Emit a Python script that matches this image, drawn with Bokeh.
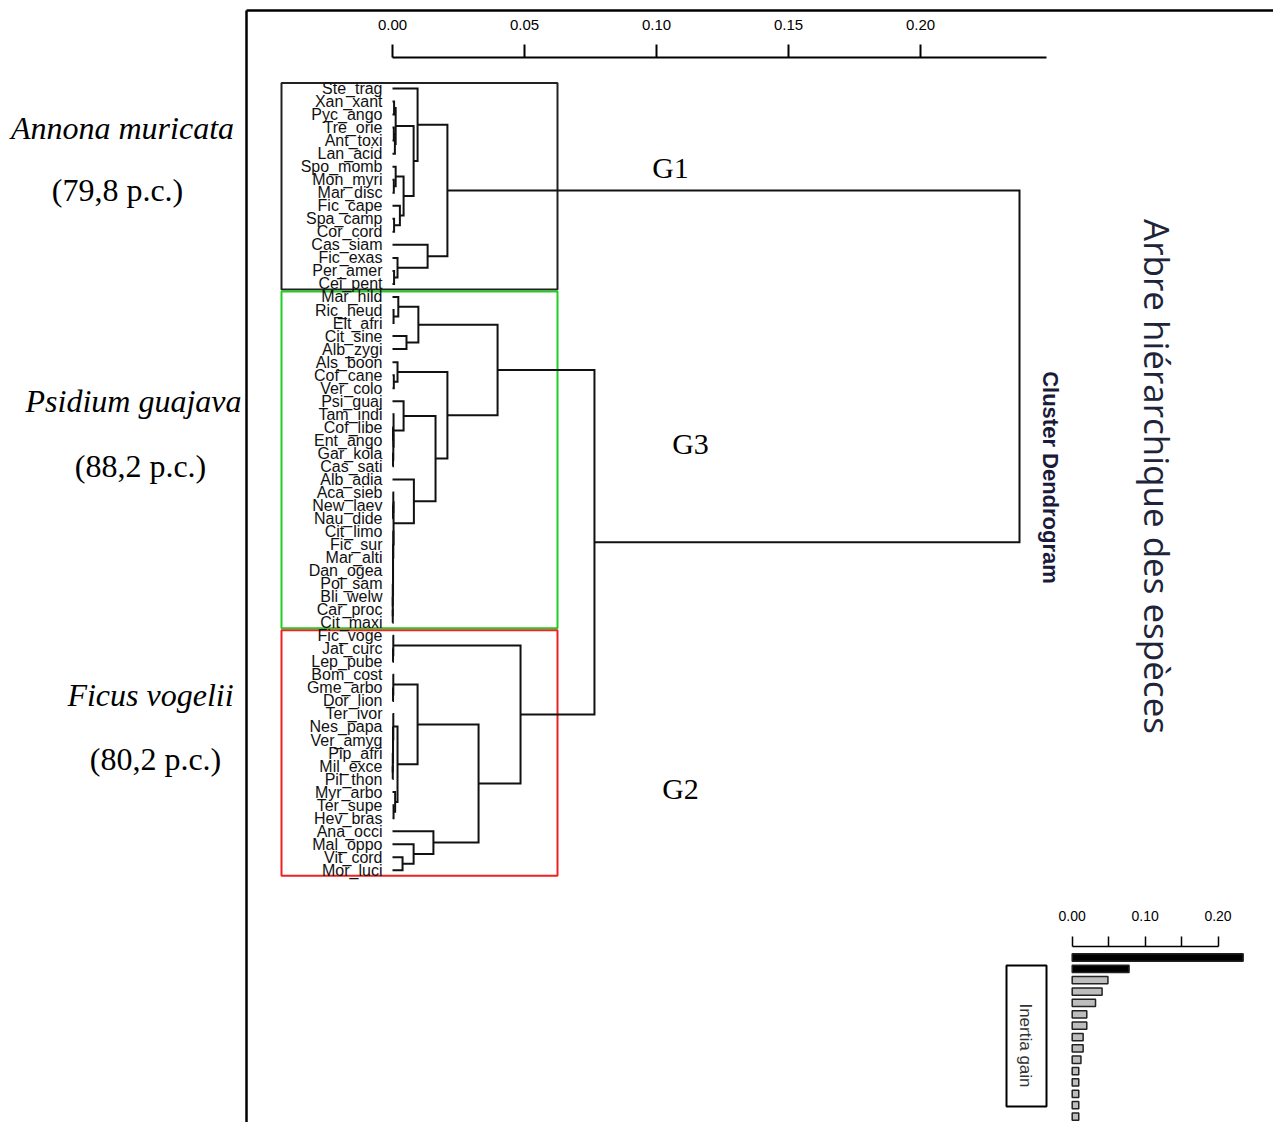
import math
from bokeh.plotting import figure
from bokeh.models import Range1d, LinearAxis, FixedTicker, PrintfTickFormatter, Label
from bokeh.core.properties import value
from bokeh.embed import file_html
from bokeh.resources import INLINE

# ---------------- data ----------------
leaf_labels = [
    "Ste_trag", "Xan_xant", "Pyc_ango", "Tre_orie", "Ant_toxi", "Lan_acid", "Spo_momb", "Mon_myri",
    "Mar_disc", "Fic_cape", "Spa_camp", "Cor_cord", "Cas_siam", "Fic_exas", "Per_amer", "Cei_pent",
    "Mar_hild", "Ric_heud", "Elt_afri", "Cit_sine", "Alb_zygi", "Als_boon", "Cof_cane", "Ver_colo",
    "Psi_guaj", "Tam_indi", "Cof_libe", "Ent_ango", "Gar_kola", "Cas_sati", "Alb_adia", "Aca_sieb",
    "New_laev", "Nau_dide", "Cit_limo", "Fic_sur", "Mar_alti", "Dan_ogea", "Pol_sam", "Bli_welw",
    "Car_proc", "Cit_maxi",
    "Fic_voge", "Jat_curc", "Lep_pube", "Bom_cost", "Gme_arbo", "Dor_lion", "Ter_ivor", "Nes_papa",
    "Ver_amyg", "Pip_afri", "Mil_exce", "Pil_thon", "Myr_arbo", "Ter_supe", "Hev_bras", "Ana_occi",
    "Mal_oppo", "Vit_cord", "Mor_luci",
]

# merges: (child 1, child 2, height, node name)
g1_merges = [
    ("Xan_xant", "Pyc_ango", 0.0006, "g1a"),
    ("Tre_orie", "Ant_toxi", 0.0005, "g1b"),
    ("g1b", "Lan_acid", 0.0009, "g1c"),
    ("g1a", "g1c", 0.0012, "g1d"),
    ("Mon_myri", "Mar_disc", 0.0005, "g1e"),
    ("Spo_momb", "g1e", 0.0012, "g1f"),
    ("Spa_camp", "Cor_cord", 0.0006, "g1g"),
    ("Fic_cape", "g1g", 0.0028, "g1h"),
    ("g1f", "g1h", 0.0042, "g1i"),
    ("g1d", "g1i", 0.0080, "g1j"),
    ("Ste_trag", "g1j", 0.0095, "g1k"),
    ("Per_amer", "Cei_pent", 0.0006, "g1l"),
    ("Fic_exas", "g1l", 0.0019, "g1m"),
    ("Cas_siam", "g1m", 0.0133, "g1n"),
    ("g1k", "g1n", 0.0208, "G1"),
]
g3_merges = [
    ("Ric_heud", "Elt_afri", 0.0004, "g3a"),
    ("Mar_hild", "g3a", 0.0022, "g3b"),
    ("Cit_sine", "Alb_zygi", 0.0053, "g3c"),
    ("g3b", "g3c", 0.0098, "g3d"),
    ("Cof_cane", "Ver_colo", 0.0005, "g3e"),
    ("Als_boon", "g3e", 0.0019, "g3f"),
    ("Cof_libe", "Ent_ango", 0.0002, "g3g"),
    ("Gar_kola", "Cas_sati", 0.0002, "g3h"),
    ("g3g", "g3h", 0.0003, "g3i"),
    ("Tam_indi", "g3i", 0.0004, "g3j"),
    ("Psi_guaj", "g3j", 0.0042, "g3k"),
    ("New_laev", "Nau_dide", 0.0002, "g3l"),
    ("Aca_sieb", "g3l", 0.0003, "g3m"),
    ("Car_proc", "Cit_maxi", 0.0001, "g3n"),
    ("Bli_welw", "g3n", 0.0001, "g3o"),
    ("Pol_sam", "g3o", 0.0001, "g3p"),
    ("Dan_ogea", "g3p", 0.0002, "g3q"),
    ("Mar_alti", "g3q", 0.0002, "g3r"),
    ("Fic_sur", "g3r", 0.0002, "g3s"),
    ("Cit_limo", "g3s", 0.0003, "g3t"),
    ("g3m", "g3t", 0.0004, "g3u"),
    ("Alb_adia", "g3u", 0.0081, "g3v"),
    ("g3k", "g3v", 0.0163, "g3w"),
    ("g3f", "g3w", 0.0208, "g3x"),
    ("g3d", "g3x", 0.0398, "G3"),
]
g2_merges = [
    ("Jat_curc", "Lep_pube", 0.0002, "g2a"),
    ("Fic_voge", "g2a", 0.0003, "g2b"),
    ("Gme_arbo", "Dor_lion", 0.0002, "g2c"),
    ("Bom_cost", "g2c", 0.0003, "g2d"),
    ("Mil_exce", "Pil_thon", 0.0001, "g2e"),
    ("Pip_afri", "g2e", 0.0001, "g2f"),
    ("Ver_amyg", "g2f", 0.0002, "g2g"),
    ("Nes_papa", "g2g", 0.0002, "g2h"),
    ("Ter_ivor", "g2h", 0.0003, "g2i"),
    ("Ter_supe", "Hev_bras", 0.0004, "g2j"),
    ("Myr_arbo", "g2j", 0.0010, "g2k"),
    ("g2i", "g2k", 0.0019, "g2l"),
    ("g2d", "g2l", 0.0095, "g2m"),
    ("Vit_cord", "Mor_luci", 0.0038, "g2n"),
    ("Mal_oppo", "g2n", 0.0080, "g2o"),
    ("Ana_occi", "g2o", 0.0155, "g2p"),
    ("g2m", "g2p", 0.0326, "g2q"),
    ("g2b", "g2q", 0.0485, "G2"),
]
top_merges = [
    ("G3", "G2", 0.0765, "G23"),
    ("G1", "G23", 0.2375, "root"),
]

group_names = ["G1", "G3", "G2"]
group_sizes = [16, 26, 19]
group_colors = ["#222222", "#22cc22", "#ee2222"]
group_species = ["Annona muricata", "Psidium guajava", "Ficus vogelii"]
group_pct = ["(79,8 p.c.)", "(88,2 p.c.)", "(80,2 p.c.)"]

axis_ticks = [0.00, 0.05, 0.10, 0.15, 0.20]
axis_max = 0.2477

inertia_gain = [0.2345, 0.078, 0.049, 0.041, 0.032, 0.020, 0.020, 0.015, 0.015,
                0.012, 0.009, 0.009, 0.009, 0.009, 0.009]
inertia_ticks = [0.00, 0.10, 0.20]
inertia_minor = [0.05, 0.15]
n_clusters = 3

# ---------------- layout helpers (pixel -> data) ----------------
W, H = 1273, 1122
X0, XS = 392.0, 2640.0        # px of height 0, px per unit height
Y0, YS = 88.0, 13.03          # px of first leaf, px per leaf
def dx(px): return (px - X0) / XS
def dy(py): return (py - Y0) / YS

IX0, IXS = 1071.7, 729.0      # inertia panel
IY0, IYS = 957.0, 11.36
def idy(py): return (py - IY0) / IYS

SANS = "Liberation Sans"
SERIF = "Liberation Serif"

p = figure(width=W, height=H, output_backend="svg", toolbar_location=None,
           x_range=Range1d(dx(0), dx(W)), y_range=Range1d(dy(H), dy(0)),
           x_axis_type=None, y_axis_type=None, min_border=0)
p.outline_line_color = None
p.grid.visible = False
p.background_fill_color = "white"
p.border_fill_color = "white"

p.extra_x_ranges = {"ig_x": Range1d(-IX0 / IXS, (W - IX0) / IXS)}
p.extra_y_ranges = {"ig_y": Range1d(idy(H), idy(0))}

# outer frame (left & top lines)
p.segment(x0=[dx(246), dx(246)], y0=[dy(10), dy(10)], x1=[dx(246), dx(W + 5)], y1=[dy(H + 5), dy(10)],
          line_color="black", line_width=2.5)

# group boxes
start = 0
for name, size, col in zip(group_names, group_sizes, group_colors):
    p.quad(left=[dx(281)], right=[dx(557)], top=[start - 0.42], bottom=[start + size - 1 + 0.42],
           fill_color=None, line_color=col, line_width=2)
    start += size

# dendrogram
pos = {name: (0.0, float(i)) for i, name in enumerate(leaf_labels)}
xs, ys = [], []
for table in (g1_merges, g3_merges, g2_merges, top_merges):
    for a, b, h, name in table:
        ha, ya = pos[a]
        hb, yb = pos[b]
        xs.append([ha, h, h, hb])
        ys.append([ya, ya, yb, yb])
        pos[name] = (h, (ya + yb) / 2.0)
p.multi_line(xs=xs, ys=ys, line_color="#111111", line_width=2, line_join="miter")

# leaf labels
p.text(x=[0.0] * len(leaf_labels), y=list(range(len(leaf_labels))), text=leaf_labels,
       x_offset=-10, text_align="right", text_baseline="middle",
       text_font=value(SANS), text_font_size="16px", text_color="#111111")

# top axis
top_axis = LinearAxis(fixed_location=dy(57), bounds=(0, axis_max),
                      ticker=FixedTicker(ticks=axis_ticks, minor_ticks=[]),
                      formatter=PrintfTickFormatter(format="%.2f"),
                      major_tick_out=13, major_tick_in=0, minor_tick_out=0, minor_tick_in=0,
                      axis_line_width=2, major_tick_line_width=2,
                      major_label_text_font=SANS, major_label_text_color="black",
                      major_label_text_font_size="15px", major_label_standoff=15)
p.add_layout(top_axis, "above")

# group texts
for name, (px, py) in zip(group_names, [(670, 167), (690, 443), (680, 788)]):
    p.add_layout(Label(x=dx(px), y=dy(py), text=name, text_font=SERIF, text_color="black",
                       text_font_size="30px", text_align="center", text_baseline="middle"))
for sp, pct, (sx, sy), (cx, cy) in zip(group_species, group_pct,
                                        [(122, 127), (133, 400), (150, 694)],
                                        [(117, 189), (140, 465), (155, 758)]):
    p.add_layout(Label(x=dx(sx), y=dy(sy), text=sp, text_font=SERIF, text_color="black",
                       text_font_style="italic", text_font_size="32px",
                       text_align="center", text_baseline="middle"))
    p.add_layout(Label(x=dx(cx), y=dy(cy), text=pct, text_font=SERIF, text_color="black",
                       text_font_size="32px", text_align="center", text_baseline="middle"))

# rotated titles
p.add_layout(Label(x=dx(1050), y=dy(477), text="Cluster Dendrogram", angle=-math.pi / 2,
                   text_font=SANS, text_font_style="bold", text_font_size="22px",
                   text_color="#1a1a3a", text_align="center", text_baseline="middle"))
p.add_layout(Label(x=dx(1157), y=dy(476), text="Arbre hiérarchique des espèces", angle=-math.pi / 2,
                   text_font="Open Sans", text_font_size="35px",
                   text_color="#20243a", text_align="center", text_baseline="middle"))

# inertia gain panel
bar_colors = ["black" if k < n_clusters - 1 else "#bdbdbd" for k in range(len(inertia_gain))]
p.hbar(y=list(range(len(inertia_gain))), left=0, right=inertia_gain, height=0.64,
       fill_color=bar_colors, line_color="#222222", line_width=1.5,
       x_range_name="ig_x", y_range_name="ig_y")
ig_axis = LinearAxis(x_range_name="ig_x", y_range_name="ig_y", fixed_location=idy(946),
                     bounds=(0, 0.20),
                     ticker=FixedTicker(ticks=inertia_ticks, minor_ticks=inertia_minor),
                     formatter=PrintfTickFormatter(format="%.2f"),
                     major_tick_out=10, major_tick_in=0, minor_tick_out=10, minor_tick_in=0,
                     axis_line_width=1.5, major_tick_line_width=1.5, minor_tick_line_width=1.5,
                     minor_tick_line_color="black",
                     major_label_text_font=SANS, major_label_text_color="black",
                     major_label_text_font_size="14px", major_label_standoff=16)
p.add_layout(ig_axis, "above")

p.quad(left=[dx(1006)], right=[dx(1046)], top=[dy(965)], bottom=[dy(1106)],
       fill_color=None, line_color="black", line_width=2)
p.add_layout(Label(x=dx(1025), y=dy(1045), text="Inertia gain", angle=-math.pi / 2,
                   text_font=SANS, text_font_size="17px", text_color="#333333",
                   text_align="center", text_baseline="middle"))

open("out.html", "w").write(file_html(p, INLINE))
